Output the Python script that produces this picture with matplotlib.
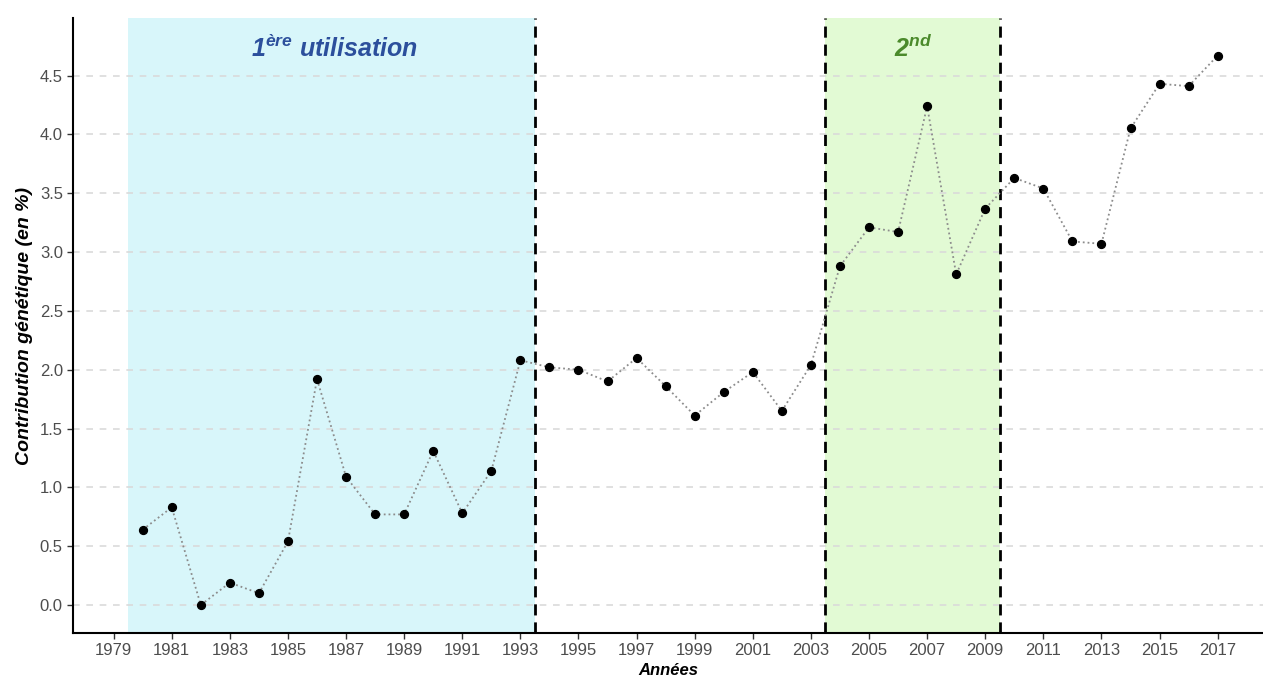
import matplotlib
matplotlib.use("Agg")
import matplotlib.pyplot as plt

plt.rcParams['font.family'] = ['Liberation Sans', 'DejaVu Sans']
plt.rcParams['mathtext.fontset'] = 'custom'
plt.rcParams['mathtext.rm'] = 'Liberation Sans:bold:italic'

# Contribution génétique par année
annees = list(range(1980, 2018))
contribution = [0.64, 0.83, 0.00, 0.19, 0.10, 0.54, 1.92, 1.09, 0.77, 0.77,
                1.31, 0.78, 1.14, 2.08, 2.02, 2.00, 1.90, 2.10, 1.86, 1.61,
                1.81, 1.98, 1.65, 2.04, 2.88, 3.21, 3.17, 4.24, 2.81, 3.37,
                3.63, 3.54, 3.09, 3.07, 4.05, 4.43, 4.41, 4.67]

periode1 = (1979.5, 1993.5)
periode2 = (2003.5, 2009.5)
xticks = list(range(1979, 2018, 2))
yticks = [0.0, 0.5, 1.0, 1.5, 2.0, 2.5, 3.0, 3.5, 4.0, 4.5]

fig = plt.figure(figsize=(12.63, 6.8), dpi=100)
ax = fig.add_axes([0.058, 0.0691, 0.942, 0.9044])

ax.axvspan(*periode1, color="#d8f6fa", zorder=0, lw=0)
ax.axvspan(*periode2, color="#e2fad4", zorder=0, lw=0)

for y in yticks:
    ax.axhline(y, color="#dadada", lw=1.2, ls=(0, (4, 4)), zorder=1)

for x in [periode1[1], periode2[0], periode2[1]]:
    ax.axvline(x, color="black", lw=2, ls=(0, (4, 2.5)), zorder=2)

ax.plot(annees, contribution, color="#8c8c8c", lw=1.3, ls=":", zorder=3)
ax.scatter(annees, contribution, color="black", s=32, zorder=4)

ax.text(1986.6, 4.73, r"1$^{\mathrm{ère}}$ utilisation", color="#2c4f9c",
        fontsize=18, fontweight="bold", fontstyle="italic", ha="center", va="center")
ax.text(2006.5, 4.73, r"2$^{\mathrm{nd}}$", color="#4b8a2b",
        fontsize=18, fontweight="bold", fontstyle="italic", ha="center", va="center")

ax.set_xlim(1977.61, 2018.56)
ax.set_ylim(-0.238, 4.989)
ax.set_xticks(xticks)
ax.set_yticks(yticks)
ax.set_yticklabels([f"{v:.1f}" for v in yticks])
ax.tick_params(labelcolor="#4d4d4d", labelsize=12, length=4, width=1, color="#333333")

for s in ["top", "right"]:
    ax.spines[s].set_visible(False)
for s in ["left", "bottom"]:
    ax.spines[s].set_color("black")
    ax.spines[s].set_linewidth(1.5)

ax.set_xlabel("Années", fontsize=12, fontweight="bold", fontstyle="italic", labelpad=3)
ax.set_ylabel("Contribution génétique (en %)", fontsize=14, fontweight="bold",
              fontstyle="italic", labelpad=5)

fig.savefig("out.png", dpi=100)
